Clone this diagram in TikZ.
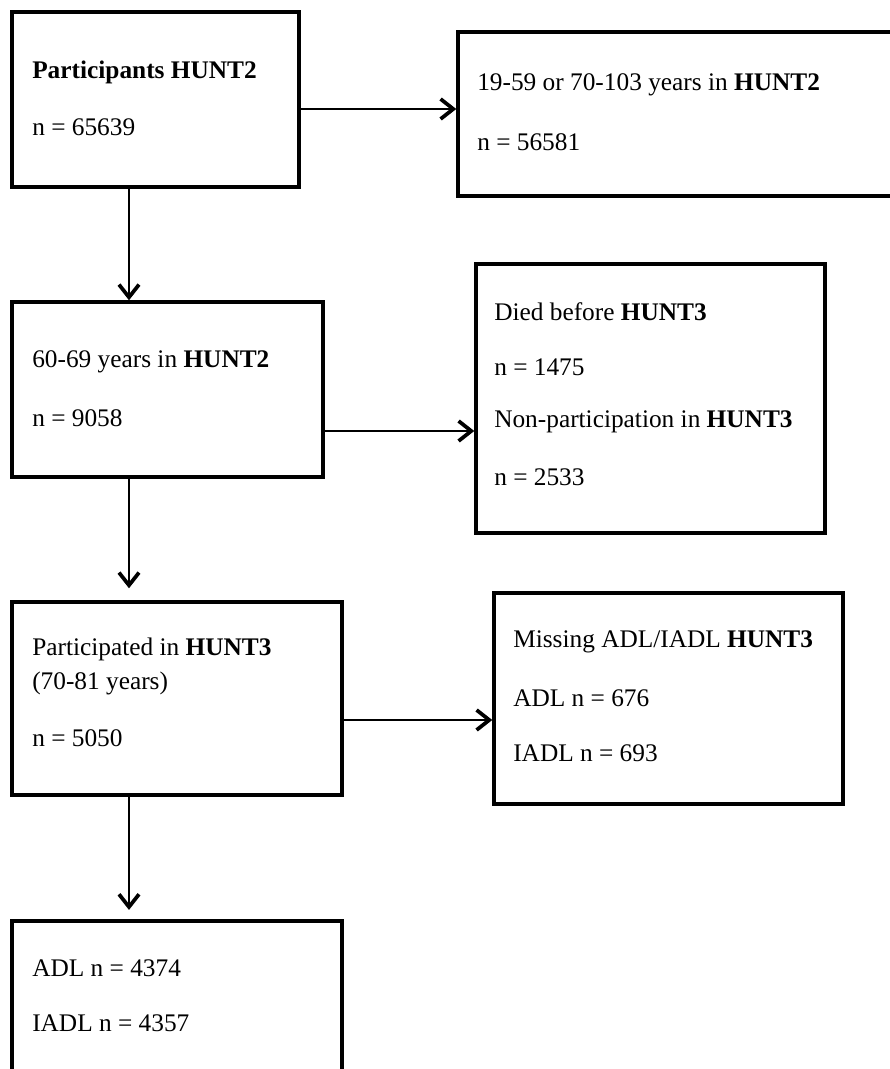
\documentclass[tikz,border=0pt]{standalone}
\usepackage{fontspec}
\setmainfont{Liberation Serif}
\usetikzlibrary{arrows.meta,fit}
\begin{document}
\begin{tikzpicture}[x=0.75pt,y=-0.75pt,
  box/.style={draw, line width=2.6pt, inner sep=0pt},
  txt/.style={anchor=west, inner sep=0pt, font=\fontsize{19}{23}\selectfont},
  conn/.style={line width=1.5pt, -{Straight Barb[length=9.5pt,width=15pt,line width=2.8pt]}}]
\useasboundingbox (0,0) rectangle (889,1069);
\fill[white] (0,0) rectangle (889,1069);

% boxes
\node[box, fit={(12,12) (299,187)}] (b1) {};
\node[box, fit={(458,32) (905,196)}] (b2) {};
\node[box, fit={(12,302) (323,477)}] (b3) {};
\node[box, fit={(476,264) (825,533)}] (b4) {};
\node[box, fit={(12,602) (342,795)}] (b5) {};
\node[box, fit={(494,593) (843,804)}] (b6) {};
\node[box, fit={(12,921) (342,1090)}] (b7) {};

% texts
\node[txt] (t1a) at (32,72) {\textbf{Participants HUNT2}};
\node[txt] (t1b) at (32,127) {n = 65639};
\node[txt] (t2a) at (477,85) {19-59 or 70-103 years in \textbf{HUNT2}};
\node[txt] (t2b) at (477,142) {n = 56581};
\node[txt] (t3a) at (32,362) {60-69 years in \textbf{HUNT2}};
\node[txt] (t3b) at (32,418) {n = 9058};
\node[txt] (t4a) at (494,312) {Died before \textbf{HUNT3}};
\node[txt] (t4b) at (494,367) {n = 1475};
\node[txt] (t4c) at (494,422) {Non-participation in \textbf{HUNT3}};
\node[txt] (t4d) at (494,477) {n = 2533};
\node[txt] (t5a) at (32,649) {Participated in \textbf{HUNT3}};
\node[txt] (t5b) at (32,683) {(70-81 years)};
\node[txt] (t5c) at (32,738) {n = 5050};
\node[txt] (t6a) at (513,642) {Missing ADL/IADL \textbf{HUNT3}};
\node[txt] (t6b) at (513,698) {ADL n = 676};
\node[txt] (t6c) at (513,753) {IADL n = 693};
\node[txt] (t7a) at (32,968) {ADL n = 4374};
\node[txt] (t7b) at (32,1023) {IADL n = 4357};

% connector guides
\coordinate (vx) at (129,0);
\coordinate (h1) at (0,109);
\coordinate (h2) at (0,431);
\coordinate (h3) at (0,720);

% connectors
\draw[conn] (b1.east |- h1) -- (b2.west |- h1);
\draw[conn] (vx |- b1.south) -- (vx |- b3.north);
\draw[conn] (b3.east |- h2) -- (b4.west |- h2);
\draw[conn, shorten >=9pt] (vx |- b3.south) -- (vx |- b5.north);
\draw[conn] (b5.east |- h3) -- (b6.west |- h3);
\draw[conn, shorten >=7pt] (vx |- b5.south) -- (vx |- b7.north);
\end{tikzpicture}
\end{document}
